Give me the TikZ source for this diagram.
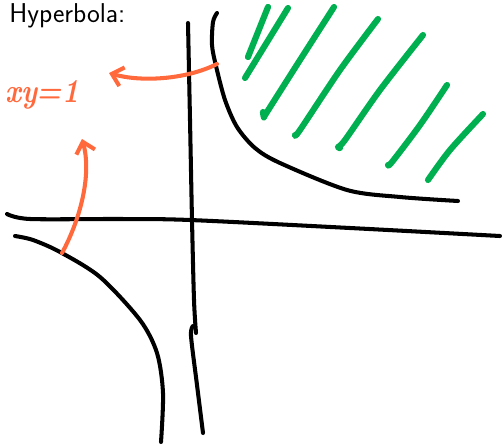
\documentclass[tikz,border=0pt]{standalone}
\usetikzlibrary{arrows.meta}
\begin{document}
\begin{tikzpicture}[x=0.02cm,y=-0.02cm,
  ink/.style={line width=2.3pt,line cap=round,line join=round,black},
  hatch/.style={line width=3.5pt,line cap=round,line join=round,color=hatchgreen},
  note/.style={line width=2.3pt,line cap=round,color=noteorange},
  notearrow/.style={note,-{Straight Barb[length=6pt,width=11pt,line width=2.3pt]}}]
\definecolor{hatchgreen}{RGB}{0,176,80}
\definecolor{noteorange}{RGB}{255,105,60}
\useasboundingbox (0,0) rectangle (502,446);
% title
\node[anchor=base west,inner sep=0pt,font=\fontsize{15.5}{18}\selectfont\sffamily] (title) at (9,23) {Hyperbola:};
% axes
\draw[ink] plot[smooth] coordinates {(7,214) (30,219) (120,219) (190,220) (350,228) (500,236)};
\draw[ink] plot[smooth] coordinates {(188,23) (190,120) (192,220) (194,300) (196,333)};
\draw[ink] plot[smooth] coordinates {(193,326) (191,336) (197,385) (203,433)};
% upper right branch
\draw[ink] plot[smooth] coordinates {(217,13) (213,22) (212,45) (216,66) (225,100) (237,127) (255,148) (280,163) (347,190) (400,197) (458,201)};
% lower left branch
\draw[ink] plot[smooth] coordinates {(15,236) (33,240) (60,252) (100,277) (140,320) (157,353) (163,393) (161,442)};
% hatching
\draw[hatch] (268,7) -- (248,57);
\draw[hatch] (288,8) -- (245,78);
\draw[hatch] plot[smooth] coordinates {(334,7) (300,60) (267,112) (264,117) (263,112)};
\draw[hatch] plot[smooth] coordinates {(378,19) (340,70) (300,130) (295,135)};
\draw[hatch] plot[smooth] coordinates {(423,35) (380,90) (345,140) (338,147) (340,148)};
\draw[hatch] plot[smooth] coordinates {(447,85) (420,125) (392,162) (388,165)};
\draw[hatch] plot[smooth] coordinates {(483,114) (450,150) (428,180)};
% annotation
\node[inner sep=0pt,text=noteorange,font=\fontsize{19}{20}\selectfont\itshape\bfseries,xscale=0.85] (eq) at (42,95) {xy=1};
\coordinate (a1s) at (217,64);
\coordinate (a1e) at (109,73);
\coordinate (a2s) at (62,253);
\coordinate (a2e) at (82,139);
\draw[notearrow] (a1s) .. controls (185,80) and (140,82) .. (a1e);
\draw[notearrow] (a2s) .. controls (80,220) and (92,175) .. (a2e);
\end{tikzpicture}
\end{document}
